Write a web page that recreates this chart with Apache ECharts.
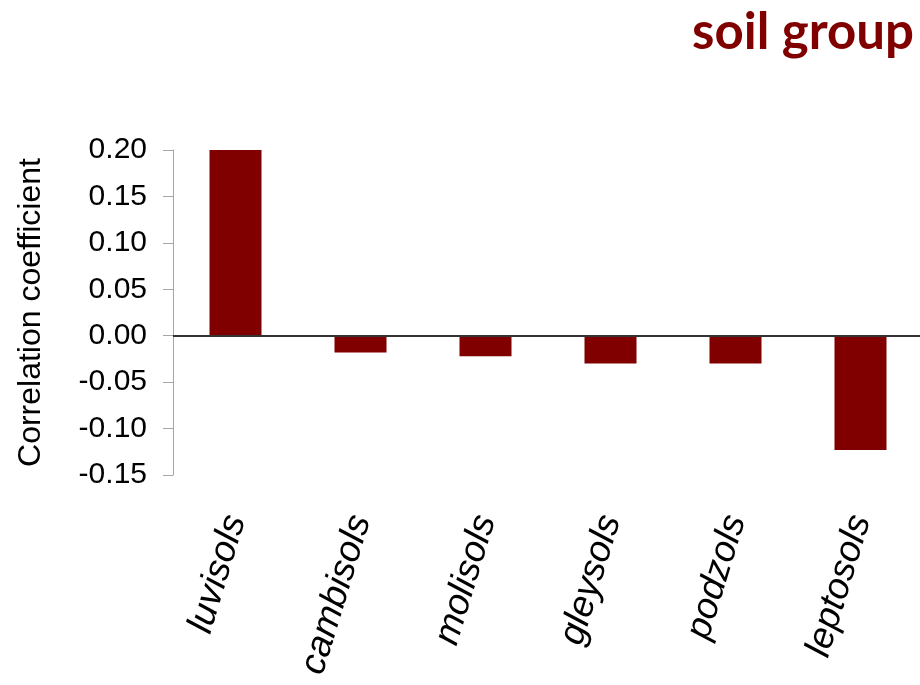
<!DOCTYPE html>
<html>
<head>
<meta charset="utf-8">
<script src="https://cdn.jsdelivr.net/npm/echarts@6/dist/echarts.min.js"></script>
<style>html,body{margin:0;padding:0;background:#fff;}#c{width:920px;height:685px;}</style>
</head>
<body>
<div id="c"></div>
<script>
const categories = ['luvisols', 'cambisols', 'molisols', 'gleysols', 'podzols', 'leptosols'];
const values = [0.200, -0.018, -0.022, -0.030, -0.030, -0.123];
const yTicks = { min: -0.15, max: 0.20, interval: 0.05 };
const titleText = 'soil group';
const yName = 'Correlation coefficient';

const chart = echarts.init(document.getElementById('c'), null, { renderer: 'canvas' });
chart.setOption({
  animation: false,
  backgroundColor: '#ffffff',
  title: {
    text: titleText,
    right: 1,
    top: 2,
    textStyle: { fontFamily: 'Lato', fontWeight: 'bold', fontSize: 51, color: '#800000' }
  },
  grid: { left: 173, top: 150, width: 750, height: 325, containLabel: false, outerBoundsMode: 'none' },
  xAxis: {
    type: 'category',
    data: categories,
    axisLine: { show: false, onZero: false },
    axisTick: { show: false },
    axisLabel: {
      rotate: 73,
      margin: 41,
      fontFamily: 'Liberation Sans',
      fontStyle: 'italic',
      fontSize: 37,
      color: '#000'
    }
  },
  yAxis: {
    type: 'value',
    min: yTicks.min,
    max: yTicks.max,
    interval: yTicks.interval,
    name: yName,
    nameLocation: 'middle',
    nameGap: 126,
    nameTextStyle: { fontFamily: 'Liberation Sans', fontSize: 32, color: '#000' },
    axisLine: { show: true, lineStyle: { color: '#a6a6a6', width: 1 } },
    axisTick: { show: true, length: 10, lineStyle: { color: '#a6a6a6', width: 1 } },
    splitLine: { show: false },
    axisLabel: {
      margin: 26,
      fontFamily: 'Liberation Sans',
      fontSize: 30,
      color: '#000',
      formatter: v => v.toFixed(2)
    }
  },
  series: [{
    type: 'bar',
    data: values,
    barWidth: 52,
    itemStyle: { color: '#800000' },
    markLine: {
      silent: true,
      symbol: 'none',
      label: { show: false },
      lineStyle: { color: '#333333', type: 'solid', width: 2 },
      data: [{ yAxis: 0 }]
    }
  }]
});
</script>
</body>
</html>
